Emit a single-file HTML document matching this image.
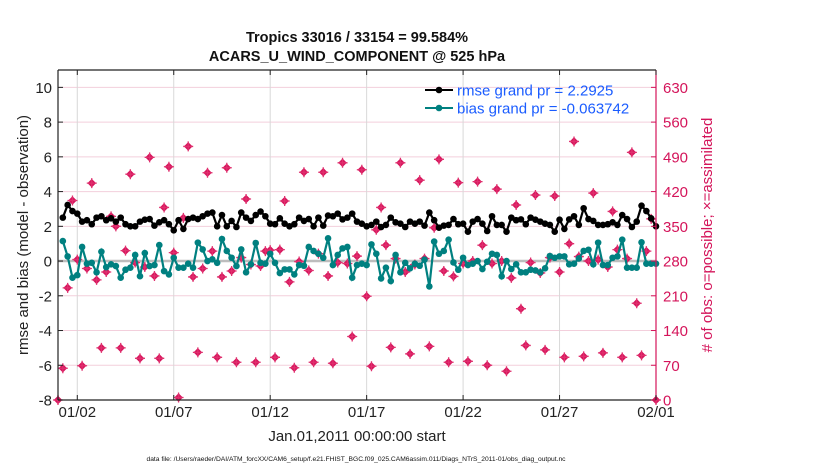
<!DOCTYPE html>
<html><head><meta charset="utf-8"><style>
body{margin:0;background:#fff;}
svg{display:block;font-family:"Liberation Sans",Arial,sans-serif;}
</style></head><body>
<svg id="chart" width="830" height="470" viewBox="0 0 830 470">
<text x="357" y="42" text-anchor="middle" font-size="14.5" font-weight="bold" fill="#111">Tropics 33016 / 33154 = 99.584%</text>
<text x="357" y="61" text-anchor="middle" font-size="14.5" font-weight="bold" fill="#111">ACARS_U_WIND_COMPONENT @ 525 hPa</text>
<g id="grid"></g>
<g id="marks"></g>
<g id="axes"></g>
<text transform="translate(28,235) rotate(-90)" text-anchor="middle" font-size="15" fill="#222">rmse and bias (model - observation)</text>
<text transform="translate(712,235) rotate(-90)" text-anchor="middle" font-size="15" fill="#d4145a"># of obs: o=possible; ×=assimilated</text>
<text x="357" y="441" text-anchor="middle" font-size="15" fill="#222">Jan.01,2011 00:00:00 start</text>
<text x="356" y="461" text-anchor="middle" font-size="6.7" fill="#111">data file: /Users/raeder/DAI/ATM_forcXX/CAM6_setup/f.e21.FHIST_BGC.f09_025.CAM6assim.011/Diags_NTrS_2011-01/obs_diag_output.nc</text>
<g>
<line x1="425" y1="90" x2="453" y2="90" stroke="#000" stroke-width="2"/>
<circle cx="439" cy="90" r="3.3" fill="#000"/>
<text x="457" y="95.5" font-size="15" fill="#1a5cff">rmse grand pr = 2.2925</text>
<line x1="425" y1="108" x2="453" y2="108" stroke="#008080" stroke-width="2"/>
<circle cx="439" cy="108" r="3.3" fill="#008080"/>
<text x="457" y="113.5" font-size="15" fill="#1a5cff">bias grand pr = -0.063742</text>
</g>
</svg>
<script>
const rmse=[2.5,3.23,2.88,2.73,2.27,2.35,2.12,2.5,2.58,2.35,2.46,2.27,2.5,2.12,2.0,2.0,2.27,2.38,2.42,2.04,2.23,2.35,2.12,1.77,2.35,1.85,2.42,2.5,2.42,2.58,2.73,
2.79,2.0,2.65,2.0,2.31,1.96,2.79,2.5,2.31,2.65,2.85,2.58,2.15,2.12,2.46,2.15,2.0,2.12,2.5,2.31,2.42,2.0,2.5,2.04,2.62,2.58,2.73,2.4,2.5,2.73,2.27,
2.15,2.0,2.08,2.27,1.96,2.08,2.5,2.23,2.15,1.96,2.27,2.15,2.27,2.04,2.79,2.35,1.92,2.04,2.08,2.42,2.12,2.15,1.69,2.27,2.42,2.15,1.73,2.58,2.08,2.08,1.69,
2.5,2.35,2.4,2.12,2.5,2.38,2.27,2.15,2.08,1.69,2.38,1.85,2.4,2.58,2.08,3.04,2.42,2.31,2.08,2.08,2.12,2.23,2.08,2.65,2.42,1.96,2.27,3.19,2.88,2.46,2.0];
const bias=[1.15,0.27,-0.96,-0.81,0.81,-0.15,-0.1,-0.65,0.54,-0.35,-0.19,-0.29,-0.96,-0.5,-0.38,0.35,-0.87,0.46,-0.29,-0.23,0.92,-0.58,-0.77,0.19,-0.38,-0.38,-0.15,-0.38,1.06,0.67,0,
0.1,-0.1,1.27,0.58,0.19,-0.29,0.67,-0.65,-0.19,1.04,-0.1,-0.15,0.42,-0.1,-0.69,-0.48,-0.48,-0.77,-0.23,-0.27,0.81,0.58,0.42,0.19,1.31,-0.23,0.35,0.73,0.81,-0.96,-0.23,
-0.15,-0.23,0.96,0.42,-1.0,-0.38,-1.15,0.35,-0.65,-0.1,-0.42,-0.15,-0.27,0.08,-1.46,1.12,0.42,0.58,1.23,-0.08,-0.5,0.19,-0.23,-0.15,0,-0.46,-0.04,0.42,0.35,-0.88,0,
-0.46,-0.19,-0.65,-0.65,-0.5,-0.54,-0.65,-0.42,0.29,0.19,0.27,0.27,-0.19,-0.15,0.15,0.58,0.65,-0.19,1.06,-0.23,-0.23,0.19,0.27,1.23,-0.38,-0.38,-0.38,1.08,-0.15,-0.15,-0.15];
const obsCount=[0,64,226,402,283,69,265,437,242,105,258,370,350,105,301,455,277,84,268,489,250,84,388,470,297,5,367,511,248,96,265,458,
300,86,248,468,260,76,287,405,273,76,270,300,302,86,303,401,238,65,279,459,261,76,295,459,250,74,277,478,275,128,290,
464,209,68,343,388,312,106,285,478,258,93,273,443,285,108,347,485,260,76,249,438,275,78,280,440,312,70,275,425,280,58,246,
393,184,110,277,413,256,101,287,411,258,86,315,521,289,88,280,417,283,95,268,380,303,86,285,499,195,90,300,365,0];
const xTickLabels=["01/02","01/07","01/12","01/17","01/22","01/27","02/01"];
const xTickDays=[1,6,11,16,21,26,31];
const yLeftTicks=[-8,-6,-4,-2,0,2,4,6,8,10];
const yRightTicks=[0,70,140,210,280,350,420,490,560,630];

const L=58,R=656,T=70,B=400;
const x=d=>L+(d/31)*(R-L);
const yL=v=>B-(v+8)/19*(B-T);
const yR=c=>B-c/665*(B-T);
const NS="http://www.w3.org/2000/svg";
function mk(tag,attrs,parent){const e=document.createElementNS(NS,tag);for(const k in attrs)e.setAttribute(k,attrs[k]);parent.appendChild(e);return e;}
const grid=document.getElementById('grid'),marks=document.getElementById('marks'),axes=document.getElementById('axes');

yRightTicks.forEach(c=>{const l=mk('line',{x1:L,x2:R,y1:yR(c),y2:yR(c),stroke:'#f3cfdc','stroke-width':1},grid);

});
xTickDays.forEach(d=>{const l=mk('line',{x1:x(d),x2:x(d),y1:T,y2:B,stroke:'#d8d8d8','stroke-width':1},grid);

});
const z=mk('line',{x1:L,x2:R,y1:yL(0),y2:yL(0),stroke:'#bdbdbd','stroke-width':2.5},grid);



obsCount.forEach((c,i)=>{const cx=x(i*0.25),cy=yR(c);
const g=mk('g',{},marks);


mk('path',{d:`M${cx},${cy-4.3}L${cx+4.3},${cy}L${cx},${cy+4.3}L${cx-4.3},${cy}Z`,fill:'#d6145c'},g);
mk('path',{d:`M${cx-5},${cy}H${cx+5}M${cx},${cy-5}V${cy+5}`,stroke:'#e0306e','stroke-width':1.3},g);});

function series(vals,color,name){
  const pts=vals.map((v,i)=>[x((i+1)*0.25),yL(v)]);
  const p=mk('polyline',{points:pts.map(q=>q.join(',')).join(' '),fill:'none',stroke:color,'stroke-width':2.2},marks);
  
  
  pts.forEach(q=>{const c=mk('circle',{cx:q[0],cy:q[1],r:3.3,fill:color},marks);
  
  });
}
series(bias,'#008080','bias');
series(rmse,'#000000','rmse');

mk('line',{x1:L,x2:L,y1:T,y2:B,stroke:'#222','stroke-width':1.2},axes);
mk('line',{x1:L,x2:R,y1:B,y2:B,stroke:'#222','stroke-width':1.2},axes);
mk('line',{x1:L,x2:R,y1:T,y2:T,stroke:'#222','stroke-width':1.2},axes);
mk('line',{x1:R,x2:R,y1:T,y2:B,stroke:'#d4145a','stroke-width':1.2},axes);
yLeftTicks.forEach(v=>{mk('line',{x1:L,x2:L+5,y1:yL(v),y2:yL(v),stroke:'#222'},axes);
const t=mk('text',{x:L-6,y:yL(v)+5.5,'text-anchor':'end','font-size':15,fill:'#222'},axes);t.textContent=v;

});
yRightTicks.forEach(c=>{mk('line',{x1:R-5,x2:R,y1:yR(c),y2:yR(c),stroke:'#d4145a'},axes);
const t=mk('text',{x:R+7,y:yR(c)+5.5,'font-size':15,fill:'#d4145a'},axes);t.textContent=c;

});
xTickDays.forEach((d,i)=>{mk('line',{x1:x(d),x2:x(d),y1:B,y2:B-5,stroke:'#222'},axes);mk('line',{x1:x(d),x2:x(d),y1:T,y2:T+5,stroke:'#222'},axes);
const t=mk('text',{x:x(d),y:B+17,'text-anchor':'middle','font-size':15,fill:'#222'},axes);t.textContent=xTickLabels[i];

});
</script>
</body></html>
